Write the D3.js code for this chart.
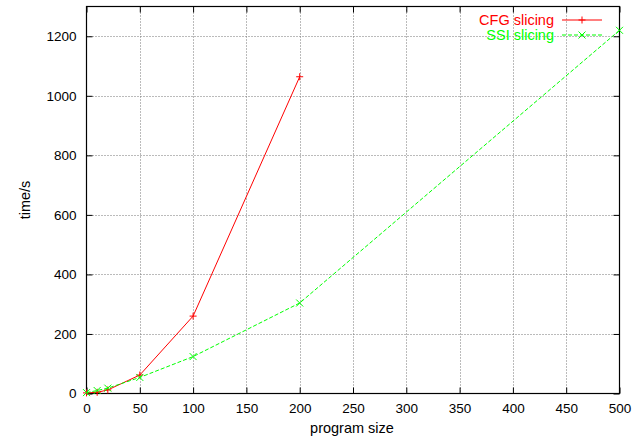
<!DOCTYPE html>
<html>
<head>
<meta charset="utf-8">
<script src="https://cdn.jsdelivr.net/npm/d3@7"></script>
<style>
body { margin:0; background:#fff; }
text { font-family: "Liberation Sans", Arial, sans-serif; }
</style>
</head>
<body>
<svg id="chart" width="633" height="437"></svg>
<script>
// data
var cfgSize= [0, 10, 20, 50, 100, 200];
var cfgTime= [2, 4, 12, 62, 260, 1064];
var ssiSize= [0, 10, 20, 50, 100, 200, 500];
var ssiTime= [3, 10, 18, 54, 124, 304, 1220];
var xTicks= [0, 50, 100, 150, 200, 250, 300, 350, 400, 450, 500];
var yTicks= [0, 200, 400, 600, 800, 1000, 1200];

//plot box (window.top is taken, so pTop etc.)
var pLeft= 86.5, pRight= 619.5, pTop= 6.5, pBot= 393.5;

var svg= d3.select("#chart");
var x= d3.scaleLinear().domain([0,500]).range([pLeft,pRight]);
var y= d3.scaleLinear().domain([0,1300]).range([pBot,pTop]);

//grid
svg.append("g").selectAll("line").data(xTicks.slice(1,-1)).enter().append("line")
    .attr("x1",function(d){return Math.round(x(d))+0.5}).attr("x2",function(d){return Math.round(x(d))+0.5})
    .attr("y1",pTop).attr("y2",pBot)
    .attr("stroke","#777").attr("stroke-width",1).attr("stroke-dasharray","1,2");
svg.append("g").selectAll("line").data(yTicks.slice(1)).enter().append("line")
    .attr("y1",function(d){return Math.round(y(d))+0.5}).attr("y2",function(d){return Math.round(y(d))+0.5})
    .attr("x1",pLeft).attr("x2",pRight)
    .attr("stroke","#777").attr("stroke-width",1).attr("stroke-dasharray","1,2");

//axes with inward ticks, mirrored
var xAxis= d3.axisBottom(x).tickValues(xTicks).tickSize(-6).tickPadding(10).tickFormat(d3.format("d"));
var yAxis= d3.axisLeft(y).tickValues(yTicks).tickSize(-6).tickPadding(10).tickFormat(d3.format("d"));
var gx= svg.append("g").attr("transform","translate(0,"+pBot+")").call(xAxis);
var gy= svg.append("g").attr("transform","translate("+pLeft+",0)").call(yAxis);
var gx2= svg.append("g").attr("transform","translate(0,"+pTop+")").call(d3.axisTop(x).tickValues(xTicks).tickSize(-6).tickFormat(""));
var gy2= svg.append("g").attr("transform","translate("+pRight+",0)").call(d3.axisRight(y).tickValues(yTicks).tickSize(-6).tickFormat(""));
[gx,gy,gx2,gy2].forEach(function(g){
    g.select(".domain").remove();
    g.selectAll("line").attr("stroke","#000");
    g.selectAll("text").attr("font-size",13.5).attr("fill","#000").attr("font-family","Liberation Sans, Arial, sans-serif");
});
svg.append("rect").attr("x",pLeft).attr("y",pTop).attr("width",pRight-pLeft).attr("height",pBot-pTop)
    .attr("fill","none").attr("stroke","#000").attr("stroke-width",1.2);

svg.append("text").attr("x",352).attr("y",433).attr("text-anchor","middle")
    .attr("font-size",14.5).text("program size");
svg.append("text").attr("transform","translate(30,"+((pTop+pBot)/2)+") rotate(-90)")
    .attr("text-anchor","middle").attr("font-size",14.5).text("time/s");

//series
var series= [
    {name:"CFG slicing", xs:cfgSize, ys:cfgTime, color:"#ff0000", dash:null, mark:"plus"},
    {name:"SSI slicing", xs:ssiSize, ys:ssiTime, color:"#00ff00", dash:"4,2", mark:"cross"}
];

function marker(g,cx,cy,kind,color) {
    var s= 3.5;
    var p= kind=="plus" ? "M"+(cx-s)+","+cy+"H"+(cx+s)+"M"+cx+","+(cy-s)+"V"+(cy+s)
                        : "M"+(cx-s)+","+(cy-s)+"L"+(cx+s)+","+(cy+s)+"M"+(cx-s)+","+(cy+s)+"L"+(cx+s)+","+(cy-s);
    g.append("path").attr("d",p).attr("stroke",color).attr("stroke-width",1).attr("fill","none");
}

series.forEach(function(s,i) {
    var pts= s.xs.map(function(v,j){return [v,s.ys[j]]});
    var line= d3.line().x(function(d){return x(d[0])}).y(function(d){return y(d[1])});
    var g= svg.append("g");
    g.append("path").datum(pts).attr("d",line).attr("fill","none")
        .attr("stroke",s.color).attr("stroke-width",1).attr("stroke-dasharray",s.dash);
    pts.forEach(function(d){ marker(g,x(d[0]),y(d[1]),s.mark,s.color) });

    //legend
    var ly= 20+i*15;
    svg.append("text").attr("x",554).attr("y",ly+5).attr("text-anchor","end")
        .attr("font-size",14.5).attr("fill",s.color).text(s.name);
    g.append("line").attr("x1",562).attr("x2",602).attr("y1",ly).attr("y2",ly)
        .attr("stroke",s.color).attr("stroke-width",1).attr("stroke-dasharray",s.dash);
    marker(g,582,ly,s.mark,s.color);
});
</script>
</body>
</html>
